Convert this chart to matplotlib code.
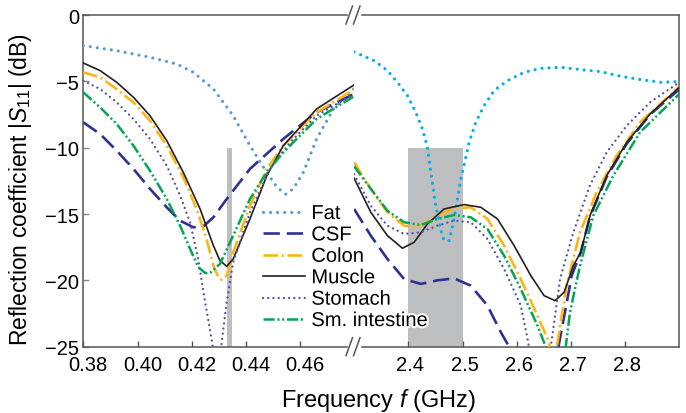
import matplotlib
matplotlib.use("Agg")
import matplotlib.pyplot as plt
from matplotlib.lines import Line2D
from matplotlib.transforms import ScaledTranslation
import matplotlib.patheffects as pe

plt.rcParams['font.family'] = ['Liberation Sans', 'DejaVu Sans']
plt.rcParams['mathtext.fontset'] = 'custom'
plt.rcParams['mathtext.rm'] = 'Liberation Sans'
plt.rcParams['mathtext.it'] = 'Liberation Sans:italic'

# ---------------- data: low band (GHz, dB) ----------------
f_lo_fat = [0.380, 0.3923, 0.4046, 0.4144, 0.4206, 0.4280, 0.4353, 0.4415, 0.4477, 0.4515, 0.4547, 0.4575, 0.4612, 0.4661, 0.4723, 0.4799]
s_lo_fat = [-2.31, -2.69, -3.19, -3.69, -4.32, -5.58, -7.59, -9.85, -11.86, -13.0, -13.5, -13.1, -11.86, -9.34, -7.08, -5.55]

f_lo_csf = [0.380, 0.3862, 0.3923, 0.3985, 0.4046, 0.4108, 0.4157, 0.4206, 0.4243, 0.4280, 0.4329, 0.4415, 0.4538, 0.4661, 0.4799]
s_lo_csf = [-8.09, -8.97, -10.22, -11.6, -13.1, -14.5, -15.5, -16.0, -15.93, -15.25, -13.87, -11.6, -9.34, -7.33, -5.95]

f_lo_colon = [0.380, 0.3862, 0.3923, 0.3985, 0.4046, 0.4108, 0.4169, 0.4218, 0.4255, 0.4280, 0.4295, 0.4310, 0.4329, 0.4353, 0.4415, 0.4477, 0.4538, 0.4661, 0.4799]
s_lo_colon = [-4.32, -4.7, -5.58, -6.58, -7.96, -9.85, -12.23, -14.62, -16.88, -18.89, -19.6, -19.95, -19.65, -17.89, -14.37, -11.6, -9.85, -7.33, -5.63]

f_lo_muscle = [0.380, 0.3862, 0.3923, 0.3985, 0.4046, 0.4108, 0.4169, 0.4231, 0.4280, 0.4304, 0.4329, 0.4353, 0.4415, 0.4477, 0.4538, 0.4661, 0.4799]
s_lo_muscle = [-3.62, -4.19, -5.07, -6.2, -7.59, -9.47, -11.86, -14.62, -17.38, -18.5, -18.94, -18.39, -15.37, -12.11, -9.85, -7.08, -5.27]

f_lo_stomach = [0.380, 0.3862, 0.3923, 0.3985, 0.4046, 0.4108, 0.4157, 0.4194, 0.4224, 0.4250, 0.4274, 0.4292, 0.4310, 0.4329, 0.4353, 0.4415, 0.4489, 0.4563, 0.4661, 0.4799]
s_lo_stomach = [-4.95, -5.58, -6.58, -7.84, -9.34, -11.35, -13.6, -15.62, -18.39, -21.7, -24.5, -27.0, -24.8, -21.65, -18.64, -14.87, -11.6, -9.6, -7.59, -5.95]

f_lo_smint = [0.380, 0.3862, 0.3923, 0.3985, 0.4046, 0.4108, 0.4157, 0.4194, 0.4224, 0.4250, 0.4267, 0.4304, 0.4353, 0.4415, 0.4477, 0.4538, 0.4661, 0.4799]
s_lo_smint = [-5.83, -6.96, -8.21, -9.85, -11.73, -13.87, -15.88, -17.63, -19.0, -19.45, -19.45, -18.77, -16.63, -13.87, -11.86, -10.35, -7.84, -6.13]

# ---------------- data: high band (GHz, dB) ----------------
f_hi_fat = [2.300, 2.3369, 2.3615, 2.380, 2.3984, 2.4138, 2.4261, 2.4353, 2.4415, 2.4507, 2.4611, 2.466, 2.4753, 2.4845, 2.4968, 2.503, 2.5122, 2.5245, 2.5398, 2.5583, 2.5829, 2.6137, 2.6444, 2.6813, 2.7182, 2.7551, 2.792, 2.8289, 2.8658, 2.900]
s_hi_fat = [-2.78, -3.44, -4.19, -5.07, -6.08, -7.34, -8.59, -9.97, -11.86, -14.37, -16.38, -17.0, -17.0, -15.37, -12.4, -11.3, -9.6, -8.09, -6.83, -5.7, -4.95, -4.32, -4.02, -3.94, -4.12, -4.27, -4.62, -4.87, -5.07, -5.02]

f_hi_csf = [2.300, 2.3308, 2.3615, 2.3923, 2.423, 2.4538, 2.4845, 2.5153, 2.546, 2.5706, 2.586, 2.630, 2.677, 2.6936, 2.7015, 2.7182, 2.7352, 2.766, 2.803, 2.846, 2.900]
s_hi_csf = [-14.62, -16.63, -18.39, -19.9, -20.27, -20.0, -19.85, -20.4, -21.9, -23.9, -25.0, -32.0, -25.0, -21.4, -19.64, -17.88, -15.2, -12.2, -9.7, -7.5, -5.6]

f_hi_colon = [2.300, 2.3308, 2.3615, 2.3923, 2.4169, 2.4538, 2.4845, 2.5153, 2.546, 2.5768, 2.6075, 2.6383, 2.6598, 2.667, 2.674, 2.692, 2.7168, 2.7476, 2.7845, 2.8275, 2.900]
s_hi_colon = [-11.1, -13.1, -14.87, -15.88, -16.0, -15.12, -14.57, -14.49, -15.37, -17.38, -19.9, -22.66, -24.67, -27.5, -25.0, -20.4, -16.38, -13.36, -10.6, -8.09, -5.4]

f_hi_muscle = [2.300, 2.3308, 2.3615, 2.3892, 2.4107, 2.4353, 2.466, 2.503, 2.5337, 2.5645, 2.5952, 2.626, 2.6505, 2.6707, 2.6875, 2.7045, 2.7182, 2.7352, 2.766, 2.803, 2.846, 2.900]
s_hi_muscle = [-12.3, -14.87, -16.63, -17.58, -17.13, -15.75, -14.62, -14.29, -14.49, -15.37, -17.38, -19.64, -21.15, -21.53, -20.9, -18.89, -17.88, -15.12, -12.11, -9.6, -7.46, -5.45]

f_hi_stomach = [2.300, 2.3308, 2.3615, 2.3923, 2.423, 2.4538, 2.4845, 2.5153, 2.546, 2.5768, 2.6075, 2.620, 2.643, 2.663, 2.680, 2.7045, 2.735, 2.766, 2.803, 2.846, 2.900]
s_hi_stomach = [-12.0, -14.37, -15.88, -16.5, -16.38, -15.88, -15.5, -15.62, -16.88, -19.14, -21.9, -24.41, -30.0, -25.0, -19.9, -16.38, -12.86, -10.35, -8.34, -6.58, -5.07]

f_hi_smint = [2.300, 2.3308, 2.3615, 2.3923, 2.423, 2.4538, 2.4845, 2.5153, 2.546, 2.5768, 2.6075, 2.6383, 2.6536, 2.672, 2.6905, 2.6983, 2.7168, 2.7413, 2.7782, 2.8275, 2.900]
s_hi_smint = [-11.4, -13.1, -14.75, -15.62, -15.83, -15.37, -15.07, -15.25, -16.13, -18.14, -20.65, -23.41, -25.0, -28.0, -25.0, -22.4, -18.89, -15.12, -12.11, -8.84, -5.95]

labels = ['Fat', 'CSF', 'Colon', 'Muscle', 'Stomach', 'Sm. intestine']

# ISM bands
band_lo = [0.43305, 0.43479]
band_hi = [2.40, 2.50]
band_db = [-25, -10]

xticks_lo = [0.38, 0.40, 0.42, 0.44, 0.46]
xticks_hi = [2.4, 2.5, 2.6, 2.7, 2.8]
yticks = [0, -5, -10, -15, -20, -25]

# ---------------- styles ----------------
styles = {
    'Fat':    dict(color='#5b9bd5', lw=2.3, ls=(0, (0.01, 2.2)), dash_capstyle='round'),
    'CSF':    dict(color='#2e3192', lw=1.9, ls=(0, (6.2, 2.6))),
    'Colon':  dict(color='#fdb515', lw=1.9, ls=(0, (5.5, 1.4, 0.8, 1.4))),
    'Muscle': dict(color='#231f20', lw=1.2, ls='-'),
    'Stomach': dict(color='#5550a5', lw=1.7, ls=(0, (0.01, 2.2)), dash_capstyle='round'),
    'Sm. intestine': dict(color='#00a651', lw=1.8, ls=(0, (4.5, 1.1, 0.8, 1.1, 0.8, 1.1))),
}
fat_hi_color = '#00aeef'
spine_c = '#555555'
gray = '#bcbec0'

W, H = 686, 414
fig = plt.figure(figsize=(W / 100, H / 100), dpi=100)

x0, xb, x1 = 83.3, 354.1, 679.3
ytop, ybot = 16.0, 347.7
ax1 = fig.add_axes([x0 / W, 1 - ybot / H, (xb - x0) / W, (ybot - ytop) / H])
ax2 = fig.add_axes([xb / W, 1 - ybot / H, (x1 - xb) / W, (ybot - ytop) / H])

lo = [(f_lo_fat, s_lo_fat), (f_lo_csf, s_lo_csf), (f_lo_colon, s_lo_colon),
      (f_lo_muscle, s_lo_muscle), (f_lo_stomach, s_lo_stomach), (f_lo_smint, s_lo_smint)]
hi = [(f_hi_fat, s_hi_fat), (f_hi_csf, s_hi_csf), (f_hi_colon, s_hi_colon),
      (f_hi_muscle, s_hi_muscle), (f_hi_stomach, s_hi_stomach), (f_hi_smint, s_hi_smint)]

ax1.fill_betweenx(band_db, band_lo[0], band_lo[1], color=gray, lw=0, zorder=1)
ax2.fill_betweenx(band_db, band_hi[0], band_hi[1], color=gray, lw=0, zorder=1)

handles = []
for name, (f, s) in zip(labels, lo):
    st = dict(styles[name])
    ls = st.pop('ls')
    ln, = ax1.plot(f, s, linestyle=ls, **st, zorder=3)
    handles.append(ln)
for name, (f, s) in zip(labels, hi):
    st = dict(styles[name])
    ls = st.pop('ls')
    if name == 'Fat':
        st['color'] = fat_hi_color
    ax2.plot(f, s, linestyle=ls, **st, zorder=3)

ax1.set_xlim(0.38, 0.38 + (xb - x0) / 2710.0)
ax2.set_xlim(2.30, 2.90)
for ax in (ax1, ax2):
    ax.set_ylim(-25, 0)
    for sp in ax.spines.values():
        sp.set_color(spine_c)
        sp.set_linewidth(1.1)
ax1.spines['right'].set_visible(False)
ax2.spines['left'].set_visible(False)
ax1.spines['top'].set_bounds(0.38, 0.4773)
ax1.spines['bottom'].set_bounds(0.38, 0.4773)
ax2.spines['top'].set_bounds(2.314, 2.90)
ax2.spines['bottom'].set_bounds(2.314, 2.90)

ax1.set_xticks(xticks_lo)
ax1.set_xticklabels([f'{v:.2f}' for v in xticks_lo])
ax2.set_xticks(xticks_hi)
ax2.set_xticklabels([f'{v:.1f}' for v in xticks_hi])
ax1.set_yticks(yticks)
ax1.set_yticklabels([f'{v:d}'.replace('-', '\u2212') for v in yticks])
ax2.set_yticks([])
for ax in (ax1, ax2):
    ax.tick_params(axis='x', direction='in', length=4, width=1.0, color=spine_c,
                   labelsize=14.5, pad=6, top=False)
ax1.tick_params(axis='y', direction='in', length=4, width=1.0, color='#888888',
                labelsize=14.5, pad=3)

for lab in ax1.get_xticklabels():
    lab.set_transform(lab.get_transform() + ScaledTranslation(0.05, 0, fig.dpi_scale_trans))
for lab in ax2.get_xticklabels():
    lab.set_transform(lab.get_transform() + ScaledTranslation(0.02, 0, fig.dpi_scale_trans))

# break marks
for yy in (ytop, ybot):
    for xa in (346.0, 353.5):
        fig.add_artist(Line2D([xa / W, (xa + 6.5) / W], [1 - (yy + 9) / H, 1 - (yy - 9) / H],
                              color=spine_c, lw=1.1, transform=fig.transFigure))

# labels
fig.text(378 / W, 1 - 407 / H, 'Frequency $f$ (GHz)', ha='center', va='baseline', fontsize=17)
fig.text(21 / W, 1 - 189 / H, 'Reflection coefficient |$S_{11}$| (dB)', ha='center', va='center',
         rotation=90, fontsize=16.5)

leg = fig.legend(handles, labels, loc='upper left', bbox_to_anchor=(263 / W, 1 - 205 / H),
                 bbox_transform=fig.transFigure, frameon=False, borderpad=0, borderaxespad=0,
                 handlelength=2.1, handletextpad=0.3, labelspacing=0.12, fontsize=14.5)
for t in leg.get_texts():
    t.set_path_effects([pe.withStroke(linewidth=3, foreground='white')])

fig.savefig('out.png', dpi=100)
